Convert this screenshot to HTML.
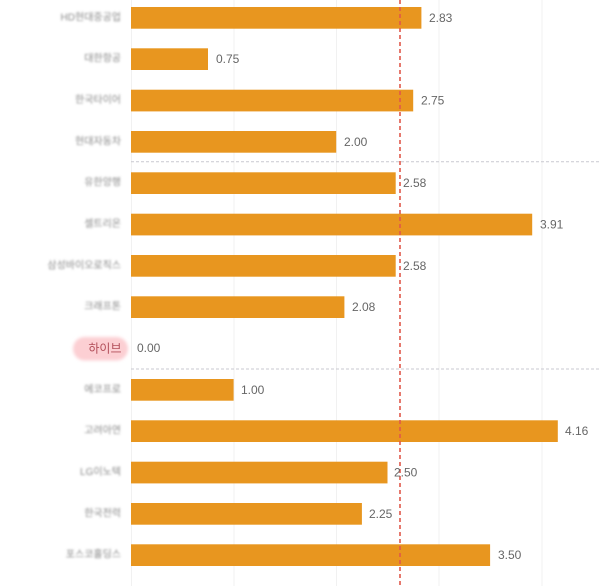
<!DOCTYPE html>
<html>
<head>
<meta charset="utf-8">
<style>
  html,body{margin:0;padding:0;background:#fff;}
  svg{display:block;}
  .lbl{font-family:"Liberation Sans","Noto Sans CJK KR",sans-serif;font-size:10px;fill:#8a8a8a;filter:url(#blur);}
  .val{font-family:"Liberation Sans","Noto Sans CJK KR",sans-serif;font-size:12px;fill:#666;}
</style>
</head>
<body>
<svg width="600" height="586" viewBox="0 0 600 586" xmlns="http://www.w3.org/2000/svg">
  <defs>
    <filter id="blur" x="-20%" y="-50%" width="140%" height="200%"><feGaussianBlur stdDeviation="1.1"/></filter>
    <filter id="pblur" x="-20%" y="-50%" width="140%" height="200%"><feGaussianBlur stdDeviation="1.5"/></filter>
  </defs>
  <rect width="600" height="586" fill="#fff"/>
  <!-- gridlines -->
  <g stroke="#f1f1f1" stroke-width="1">
    <line x1="131.5" y1="0" x2="131.5" y2="586"/>
    <line x1="234" y1="0" x2="234" y2="586"/>
    <line x1="336.5" y1="0" x2="336.5" y2="586"/>
    <line x1="439" y1="0" x2="439" y2="586"/>
    <line x1="542" y1="0" x2="542" y2="586"/>
  </g>
  <!-- group separators -->
  <g stroke="#c9c9d0" stroke-width="1" stroke-dasharray="3 2">
    <line x1="131" y1="161.7" x2="600" y2="161.7"/>
    <line x1="131" y1="369" x2="600" y2="369"/>
  </g>
  <!-- bars -->
  <g fill="#E8961F">
    <rect x="131" y="7" width="290.4" height="21.7"/>
    <rect x="131" y="48.3" width="77" height="21.7"/>
    <rect x="131" y="89.7" width="282.2" height="21.7"/>
    <rect x="131" y="131" width="205.2" height="21.7"/>
    <rect x="131" y="172.3" width="264.7" height="21.7"/>
    <rect x="131" y="213.7" width="401.2" height="21.7"/>
    <rect x="131" y="255" width="264.7" height="21.7"/>
    <rect x="131" y="296.3" width="213.4" height="21.7"/>
    <rect x="131" y="379" width="102.6" height="21.7"/>
    <rect x="131" y="420.3" width="426.8" height="21.7"/>
    <rect x="131" y="461.7" width="256.5" height="21.7"/>
    <rect x="131" y="503" width="230.9" height="21.7"/>
    <rect x="131" y="544.3" width="359.1" height="21.7"/>
  </g>
  <!-- average line -->
  <line x1="400" y1="0" x2="400" y2="586" stroke="#e0584a" stroke-width="1.6" stroke-dasharray="4 3"/>
  <!-- value labels -->
  <g class="val" dominant-baseline="central">
    <text x="429" y="17.8">2.83</text>
    <text x="216" y="59.2">0.75</text>
    <text x="421" y="100.5">2.75</text>
    <text x="344" y="141.8">2.00</text>
    <text x="403" y="183.2">2.58</text>
    <text x="540" y="224.5">3.91</text>
    <text x="403" y="265.8">2.58</text>
    <text x="352" y="307.2">2.08</text>
    <text x="137" y="348.2">0.00</text>
    <text x="241" y="389.8">1.00</text>
    <text x="565" y="431.2">4.16</text>
    <text x="394" y="472.5">2.50</text>
    <text x="369" y="513.8">2.25</text>
    <text x="498" y="555.2">3.50</text>
  </g>
  <!-- category labels -->
  <g class="lbl" text-anchor="end" dominant-baseline="central">
    <text x="121" y="17.8">HD현대중공업</text>
    <text x="121" y="59.2">대한항공</text>
    <text x="121" y="100.5">한국타이어</text>
    <text x="121" y="141.8">현대자동차</text>
    <text x="121" y="183.2">유한양행</text>
    <text x="121" y="224.5">셀트리온</text>
    <text x="121" y="265.8">삼성바이오로직스</text>
    <text x="121" y="307.2">크래프톤</text>
    <text x="121" y="389.8">에코프로</text>
    <text x="121" y="431.2">고려아연</text>
    <text x="121" y="472.5">LG이노텍</text>
    <text x="121" y="513.8">한국전력</text>
    <text x="121" y="555.2">포스코홀딩스</text>
  </g>
  <!-- highlighted label -->
  <rect x="73" y="337" width="55" height="23.5" rx="11.7" fill="#fccfd3" filter="url(#pblur)"/>
  <text x="121.5" y="348.5" text-anchor="end" dominant-baseline="central" font-family="'Liberation Sans','Noto Sans CJK KR',sans-serif" font-size="12" fill="#b24d58">하이브</text>
</svg>
</body>
</html>
